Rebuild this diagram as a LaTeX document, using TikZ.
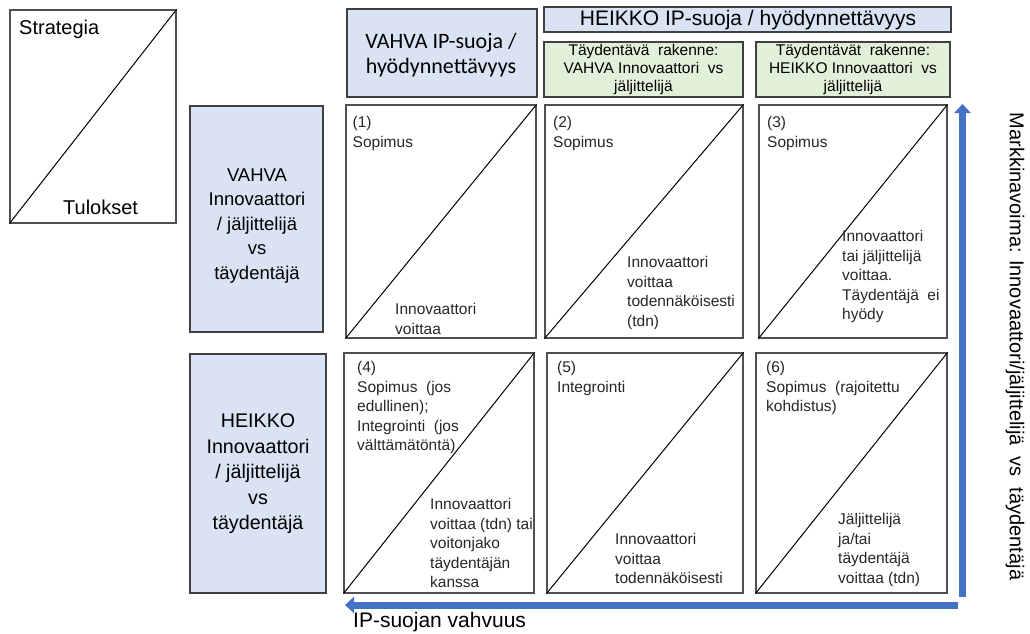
\documentclass[tikz,border=0pt]{standalone}
\usepackage{fontspec}
\setmainfont{Liberation Sans}
\newfontfamily\calibrifont{Carlito}
\usetikzlibrary{arrows.meta}
\definecolor{hdrblue}{HTML}{DAE3F3}
\definecolor{hdrgreen}{HTML}{E2F0D9}
\definecolor{arrowblue}{HTML}{4472C4}
\definecolor{boxline}{HTML}{404040}
\definecolor{cellline}{HTML}{505050}
\definecolor{celltext}{HTML}{262626}
\begin{document}
\begin{tikzpicture}[x=1pt,y=-1pt,
  hdr/.style={draw=boxline, line width=1.4pt, fill=hdrblue, inner sep=0pt},
  grn/.style={draw=boxline, line width=1.2pt, fill=hdrgreen, inner sep=0pt},
  cellbox/.style={draw=cellline, line width=1.1pt, inner sep=0pt},
  diag/.style={draw=black, line width=1pt},
  hdrtext/.style={inner sep=0pt, align=center, text=black},
  ctext/.style={anchor=north west, inner sep=0pt, align=left, text=celltext,
    font=\fontsize{15.5}{19.6}\selectfont},
  bigarrow/.style={draw=arrowblue, line width=7pt,
    -{Triangle[width=16pt,length=9pt]}}]
\useasboundingbox (0,0) rectangle (1030,634);

% Key box: strategy above the diagonal, outcomes below
\node[cellbox, minimum width=166pt, minimum height=213pt] (key) at (93,116.5) {};
\draw[diag] (key.south west) -- (key.north east);
\node[inner sep=0pt, anchor=west, font=\fontsize{20}{24}\selectfont] (keyS) at (19,29) {Strategia};
\node[inner sep=0pt, anchor=west, font=\fontsize{20}{24}\selectfont] (keyT) at (63,207) {Tulokset};

% Column headers
\node[hdr, minimum width=190pt, minimum height=88pt] (colA) at (442,53) {};
\node[hdrtext, font=\calibrifont\fontsize{22}{25}\selectfont] (colAt) at (441,55)
  {VAHVA IP-suoja /\\hyödynnettävyys};
\node[hdr, minimum width=407pt, minimum height=25pt] (colB) at (747.5,19.5) {};
\node[hdrtext, font=\fontsize{21}{24}\selectfont] (colBt) at (748,20)
  {HEIKKO IP-suoja / hyödynnettävyys};
\node[grn, minimum width=199pt, minimum height=55pt] (colB1) at (643.5,69.5) {};
\node[hdrtext, font=\fontsize{15.5}{18}\selectfont] (colB1t) at (643.5,69)
  {Täydentävä\ \ rakenne:\\VAHVA Innovaattori\ \ vs\\jäljittelijä};
\node[grn, minimum width=194pt, minimum height=55pt] (colB2) at (853,69.5) {};
\node[hdrtext, font=\fontsize{15.5}{18}\selectfont] (colB2t) at (853,69)
  {Täydentävät\ \ rakenne:\\HEIKKO Innovaattori\ \ vs\\jäljittelijä};

% Row headers
\node[hdr, minimum width=133pt, minimum height=226pt] (rowA) at (256.5,219) {};
\node[hdrtext, font=\fontsize{18.5}{24.5}\selectfont] (rowAt) at (257,226)
  {VAHVA\\Innovaattori\\/ jäljittelijä\\vs\\täydentäjä};
\node[hdr, minimum width=136pt, minimum height=239pt] (rowB) at (258,473.5) {};
\node[hdrtext, font=\fontsize{19.7}{25.5}\selectfont] (rowBt) at (258,474)
  {HEIKKO\\Innovaattori\\/ jäljittelijä\\vs\\täydentäjä};

% Matrix cells, each split by a diagonal
\node[cellbox, minimum width=190pt, minimum height=233pt] (c1) at (441,221.5) {};
\node[cellbox, minimum width=198pt, minimum height=233pt] (c2) at (644,221.5) {};
\node[cellbox, minimum width=188pt, minimum height=233pt] (c3) at (853,221.5) {};
\node[cellbox, minimum width=190pt, minimum height=240pt] (c4) at (439,473) {};
\node[cellbox, minimum width=196pt, minimum height=240pt] (c5) at (645,473) {};
\node[cellbox, minimum width=191pt, minimum height=240pt] (c6) at (851.5,473) {};
\foreach \c in {c1,c2,c3,c4,c5,c6}
  \draw[diag] (\c.south west) -- (\c.north east);

% Cell texts: strategy (top) and outcome (bottom)
\node[ctext] (c1s) at (352.5,116) {(1)\\Sopimus};
\node[ctext] (c1o) at (395,303) {Innovaattori\\voittaa};
\node[ctext] (c2s) at (553,116) {(2)\\Sopimus};
\node[ctext] (c2o) at (627,256) {Innovaattori\\voittaa\\todennäköisesti\\(tdn)};
\node[ctext] (c3s) at (767,116) {(3)\\Sopimus};
\node[ctext] (c3o) at (842,230) {Innovaattori\\tai jäljittelijä\\voittaa.\\Täydentäjä\ \ ei\\hyödy};
\node[ctext] (c4s) at (357,361) {(4)\\Sopimus\ \ (jos\\edullinen);\\Integrointi\ \ (jos\\välttämätöntä)};
\node[ctext] (c4o) at (430,498) {Innovaattori\\voittaa (tdn) tai\\voitonjako\\täydentäjän\\kanssa};
\node[ctext] (c5s) at (557,361) {(5)\\Integrointi};
\node[ctext] (c5o) at (615,533) {Innovaattori\\voittaa\\todennäköisesti};
\node[ctext] (c6s) at (766,361) {(6)\\Sopimus\ \ (rajoitettu\\kohdistus)};
\node[ctext] (c6o) at (838,513) {Jäljittelijä\\ja/tai\\täydentäjä\\voittaa (tdn)};

% Axes
\coordinate (vBot) at (962.5,597);
\coordinate (vTop) at (962.5,104);
\draw[bigarrow] (vBot) -- (vTop);
\coordinate (hRight) at (958,605);
\coordinate (hLeft) at (345,605);
\draw[bigarrow] (hRight) -- (hLeft);

\node[inner sep=0pt, anchor=west, font=\fontsize{21}{24}\selectfont] (xlab) at (353,622)
  {IP-suojan vahvuus};
\node[inner sep=0pt, rotate=-90, font=\fontsize{20}{24}\selectfont] (ylab) at (1015,346.5)
  {Markkinavoima: Innovaattori/jäljittelijä\ \ vs\ \ täydentäjä};
\end{tikzpicture}
\end{document}
